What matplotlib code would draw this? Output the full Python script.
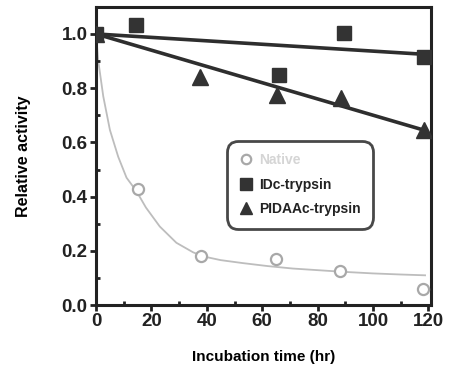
import matplotlib.pyplot as plt
from matplotlib.ticker import MultipleLocator

plt.rcParams['font.family'] = ['Liberation Sans', 'DejaVu Sans']
plt.rcParams['font.weight'] = 'bold'

# measured points
native_t = [0, 15, 38, 65, 88, 118]
native_y = [1.0, 0.43, 0.18, 0.17, 0.125, 0.06]
idc_t = [0, 14.5, 66, 89.5, 118.5]
idc_y = [1.0, 1.033, 0.85, 1.005, 0.915]
pidaa_t = [0, 37.5, 65.5, 88.5, 118.5]
pidaa_y = [1.0, 0.84, 0.775, 0.765, 0.645]

# fitted curves
native_fit_t = [0, 0.8, 2.6, 5, 8, 11, 14.6, 18, 23, 29, 35, 38.6, 45, 53, 62, 71, 80, 89, 100, 110, 118.8]
native_fit_y = [1.0, 0.90, 0.77, 0.646, 0.547, 0.47, 0.42, 0.36, 0.29, 0.23, 0.195, 0.18, 0.166, 0.155, 0.144, 0.135, 0.129, 0.123, 0.117, 0.113, 0.11]
idc_fit_t = [0, 118.5]
idc_fit_y = [1.0, 0.925]
pidaa_fit_t = [0, 118.5]
pidaa_fit_y = [1.0, 0.645]

fig = plt.figure(figsize=(4.51, 3.80), dpi=100)
ax = fig.add_axes([0.213, 0.197, 0.743, 0.785])

ax.plot(native_fit_t, native_fit_y, color='#bdbdbd', lw=1.3, zorder=1)
ax.plot(idc_fit_t, idc_fit_y, color='#2e2e2e', lw=2.6, zorder=2)
ax.plot(pidaa_fit_t, pidaa_fit_y, color='#2e2e2e', lw=2.6, zorder=2)

ax.plot(native_t, native_y, 'o', ms=8, mfc='white', mec='#a8a8a8', mew=1.6,
        ls='none', label='Native', zorder=3)
ax.plot(idc_t, idc_y, 's', ms=10.5, color='#333333', ls='none',
        label='IDc-trypsin', zorder=4)
ax.plot(pidaa_t, pidaa_y, '^', ms=11, color='#333333', ls='none',
        label='PIDAAc-trypsin', zorder=4)

ax.set_xlim(0, 121)
ax.set_ylim(0, 1.1)
ax.xaxis.set_major_locator(MultipleLocator(20))
ax.xaxis.set_minor_locator(MultipleLocator(10))
ax.yaxis.set_major_locator(MultipleLocator(0.2))
ax.yaxis.set_minor_locator(MultipleLocator(0.1))
ax.set_yticklabels(['%.1f' % v for v in ax.get_yticks()])
ax.tick_params(which='major', direction='out', length=4, width=2, labelsize=13.5,
               colors='#222222', pad=2)
ax.tick_params(which='minor', direction='in', length=3, width=2, colors='#222222')
for s in ax.spines.values():
    s.set_linewidth(2.2)
    s.set_color('#222222')

ax.set_xlabel('Incubation time (hr)', fontsize=11, fontweight='bold', labelpad=14)
ax.set_ylabel('Relative activity', fontsize=11.5, fontweight='bold', labelpad=22)

leg = ax.legend(loc='upper left', bbox_to_anchor=(0.378, 0.565), fontsize=10,
                frameon=True, fancybox=True, handletextpad=0.4, borderpad=0.7,
                handlelength=1.0, labelspacing=0.75, markerscale=0.85)
leg.get_frame().set_edgecolor('#1a1a1a')
leg.get_frame().set_linewidth(2.0)
leg.get_frame().set_boxstyle('round,pad=0.2,rounding_size=0.8')
texts = leg.get_texts()
texts[0].set_color('#d5d5d5')
for t in texts[1:]:
    t.set_color('#222222')

fig.savefig('out.png', dpi=100)
